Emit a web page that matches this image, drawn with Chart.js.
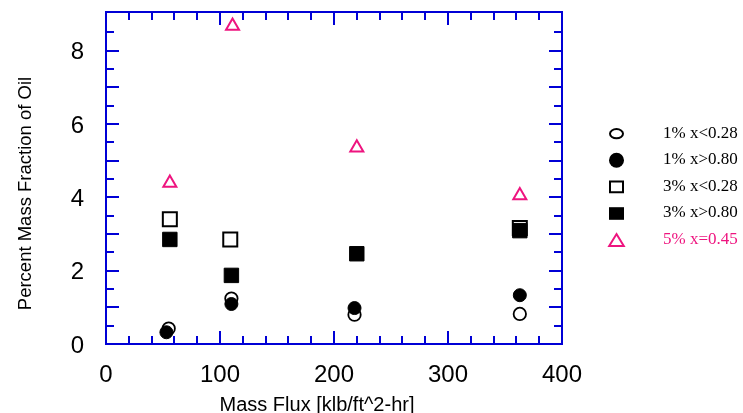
<!DOCTYPE html>
<html>
<head>
<meta charset="utf-8">
<script src="https://cdn.jsdelivr.net/npm/chart.js@4/dist/chart.umd.min.js"></script>
<style>
html, body { margin: 0; padding: 0; background: #fff; }
canvas { display: block; }
</style>
</head>
<body>
<canvas id="c" width="743" height="413"></canvas>
<script>
// ---- data ----
const seriesLabels = ['1% x<0.28', '1% x>0.80', '3% x<0.28', '3% x>0.80', '5% x=0.45'];

const flux1Low  = [55, 110, 218, 363];
const oil1Low   = [0.42, 1.24, 0.80, 0.82];

const flux1High = [53, 110, 218, 363];
const oil1High  = [0.32, 1.09, 0.98, 1.33];

const flux3Low  = [56, 109, 363];
const oil3Low   = [3.40, 2.85, 3.16];

const flux3High = [56, 110, 220, 363];
const oil3High  = [2.85, 1.87, 2.46, 3.09];

const flux5     = [56, 111, 220, 363];
const oil5      = [4.39, 8.67, 5.35, 4.05];

const xTickLabels = [0, 100, 200, 300, 400];
const yTickLabels = [0, 2, 4, 6, 8];
const xMinorStep = 20, xMajorStep = 100;
const yMinorStep = 0.5, yMajorStep = 1;

const xTitle = 'Mass Flux [klb/ft^2-hr]';
const yTitle = 'Percent Mass Fraction of Oil';

// ---- styling ----
const BLUE = '#0000d6';
const PINK = '#ee147f';
const SANS = "'Liberation Sans', Arial, Helvetica, sans-serif";
const SERIF = "'Liberation Serif', 'Times New Roman', serif";

const toPts = (xs, ys) => xs.map((x, i) => ({ x: x, y: ys[i] }));

Chart.defaults.font.family = SANS;
Chart.defaults.color = '#000';

const framePlugin = {
  id: 'frameTicks',
  beforeDatasetsDraw(chart) {
    const ctx = chart.ctx;
    const { left, right, top, bottom } = chart.chartArea;
    const xs = chart.scales.x, ys = chart.scales.y;
    ctx.save();
    ctx.strokeStyle = BLUE;
    ctx.lineWidth = 2;
    ctx.strokeRect(left, top, right - left, bottom - top);
    ctx.beginPath();
    const nx = Math.round((xs.max - xs.min) / xMinorStep);
    for (let i = 1; i < nx; i++) {
      const v = xs.min + i * xMinorStep;
      const px = Math.round(xs.getPixelForValue(v));
      const len = (Math.abs(v / xMajorStep - Math.round(v / xMajorStep)) < 1e-6) ? 13 : 8;
      ctx.moveTo(px, bottom); ctx.lineTo(px, bottom - len);
      ctx.moveTo(px, top); ctx.lineTo(px, top + len);
    }
    const ny = Math.floor((ys.max - ys.min) / yMinorStep + 1e-6);
    for (let i = 1; i <= ny; i++) {
      const v = ys.min + i * yMinorStep;
      if (v > ys.max - 0.2) continue;
      const py = Math.round(ys.getPixelForValue(v));
      const len = (Math.abs(v / yMajorStep - Math.round(v / yMajorStep)) < 1e-6) ? 13 : 8;
      ctx.moveTo(left, py); ctx.lineTo(left + len, py);
      ctx.moveTo(right, py); ctx.lineTo(right - len, py);
    }
    ctx.stroke();
    ctx.restore();
  }
};

const titlePlugin = {
  id: 'axisTitles',
  afterDraw(chart) {
    const ctx = chart.ctx;
    ctx.save();
    ctx.fillStyle = '#000';
    ctx.textAlign = 'center';
    ctx.textBaseline = 'alphabetic';
    ctx.font = '20px ' + SANS;
    ctx.fillText(xTitle, 317, 411);
    ctx.translate(31, 193.5);
    ctx.rotate(-Math.PI / 2);
    ctx.font = '18.5px ' + SANS;
    ctx.fillText(yTitle, 0, 0);
    ctx.restore();
  }
};

const legendPlugin = {
  id: 'sideLegend',
  afterDraw(chart) {
    const ctx = chart.ctx;
    const mx = 616.5, tx = 663, y0 = 133.7, dy = 26.6;
    ctx.save();
    chart.data.datasets.forEach((ds, i) => {
      const y = y0 + i * dy;
      const col = ds.borderColor;
      ctx.strokeStyle = col;
      ctx.fillStyle = col;
      ctx.lineWidth = 2;
      ctx.beginPath();
      if (i === 0) {
        ctx.ellipse(mx, y, 6.5, 4.6, 0, 0, Math.PI * 2);
        ctx.stroke();
      } else if (i === 1) {
        ctx.arc(mx, y, 7.5, 0, Math.PI * 2);
        ctx.fill();
      } else if (i === 2) {
        ctx.rect(mx - 6.5, y - 5.3, 13, 10.6);
        ctx.stroke();
      } else if (i === 3) {
        ctx.rect(mx - 7.5, y - 6.3, 15, 12.6);
        ctx.fill();
      } else {
        ctx.moveTo(mx, y - 6);
        ctx.lineTo(mx + 7.3, y + 6);
        ctx.lineTo(mx - 7.3, y + 6);
        ctx.closePath();
        ctx.stroke();
      }
      ctx.font = '17px ' + SERIF;
      ctx.textAlign = 'left';
      ctx.textBaseline = 'middle';
      ctx.fillStyle = ds.legendColor;
      ctx.fillText(ds.label, tx, y - 0.5);
    });
    ctx.restore();
  }
};

const zeroPad = s => { s.paddingTop = 0; s.paddingBottom = 0; s.paddingLeft = 0; s.paddingRight = 0; };

new Chart(document.getElementById('c'), {
  type: 'scatter',
  data: {
    datasets: [
      { label: seriesLabels[0], data: toPts(flux1Low, oil1Low), pointStyle: 'circle', pointRadius: 6.2, borderWidth: 1.8,
        borderColor: '#000', backgroundColor: 'rgba(0,0,0,0)', legendColor: '#000' },
      { label: seriesLabels[1], data: toPts(flux1High, oil1High), pointStyle: 'circle', pointRadius: 6.5, borderWidth: 1,
        borderColor: '#000', backgroundColor: '#000', legendColor: '#000' },
      { label: seriesLabels[2], data: toPts(flux3Low, oil3Low), pointStyle: 'rect', pointRadius: 9.9, borderWidth: 2,
        borderColor: '#000', backgroundColor: 'rgba(0,0,0,0)', legendColor: '#000' },
      { label: seriesLabels[3], data: toPts(flux3High, oil3High), pointStyle: 'rect', pointRadius: 10.2, borderWidth: 1,
        borderColor: '#000', backgroundColor: '#000', legendColor: '#000' },
      { label: seriesLabels[4], data: toPts(flux5, oil5), pointStyle: 'triangle', pointRadius: 7.5, borderWidth: 2,
        borderColor: PINK, backgroundColor: 'rgba(0,0,0,0)', legendColor: PINK }
    ]
  },
  options: {
    responsive: false,
    animation: false,
    devicePixelRatio: 1,
    layout: { padding: { left: 0, right: 181, top: 12, bottom: 0 } },
    plugins: { legend: { display: false }, tooltip: { enabled: false } },
    scales: {
      x: {
        type: 'linear', min: 0, max: 400,
        afterBuildTicks: s => { s.ticks = xTickLabels.map(v => ({ value: v })); },
        afterFit: s => { s.height = 69; zeroPad(s); },
        grid: { display: false, drawTicks: false },
        border: { display: false },
        ticks: { font: { size: 24 }, padding: 17, color: '#000', maxRotation: 0, autoSkip: false }
      },
      y: {
        type: 'linear', min: 0, max: 9.05,
        afterBuildTicks: s => { s.ticks = yTickLabels.map(v => ({ value: v })); },
        afterFit: s => { s.width = 106; zeroPad(s); },
        grid: { display: false, drawTicks: false },
        border: { display: false },
        ticks: { font: { size: 24 }, padding: 22, labelOffset: 2, color: '#000', autoSkip: false }
      }
    }
  },
  plugins: [framePlugin, titlePlugin, legendPlugin]
});
</script>
</body>
</html>
